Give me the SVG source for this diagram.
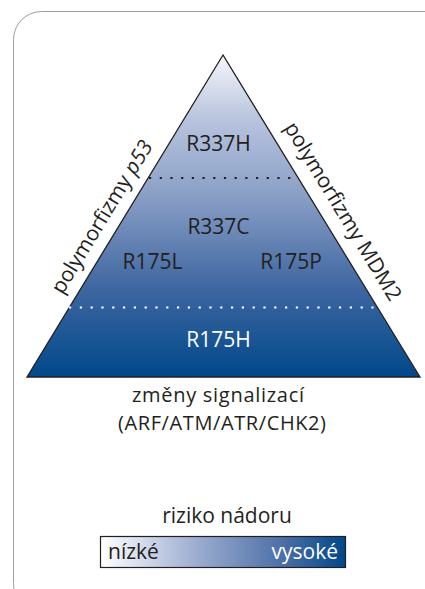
<svg xmlns="http://www.w3.org/2000/svg" width="425" height="589" viewBox="0 0 425 589">
<style>
  text { font-family: "Open Sans", "Noto Sans", "Liberation Sans", sans-serif; font-size: 21px; fill: #231f20; }
  .c { text-anchor: middle; }
  .w { fill: #ffffff; }
  .s { font-size: 20px; }
</style>
<defs>
  <linearGradient id="pyr" x1="0" y1="55" x2="0" y2="377" gradientUnits="userSpaceOnUse">
    <stop offset="0" stop-color="#f5f6fb"/>
    <stop offset="0.2" stop-color="#b8c4de"/>
    <stop offset="0.43" stop-color="#8ba0c7"/>
    <stop offset="0.72" stop-color="#3f67a1"/>
    <stop offset="1" stop-color="#00488a"/>
  </linearGradient>
  <linearGradient id="leg" x1="0" y1="0" x2="1" y2="0">
    <stop offset="0" stop-color="#ffffff"/>
    <stop offset="0.4" stop-color="#9aabcf"/>
    <stop offset="0.75" stop-color="#4a6ea5"/>
    <stop offset="1" stop-color="#00488a"/>
  </linearGradient>
</defs>
<rect x="13.5" y="11.5" width="440" height="600" rx="28" fill="none" stroke="#9d9d9d" stroke-width="1"/>
<g id="pyramid">
  <polygon points="223,55 27,377 420,377" fill="url(#pyr)" stroke="#231f20" stroke-width="1.3" stroke-linejoin="miter"/>
  <line x1="149" y1="178" x2="298" y2="178" stroke="#231f20" stroke-width="2.2" stroke-dasharray="2.2 8.5"/>
  <line x1="69" y1="307.5" x2="380" y2="307.5" stroke="#ffffff" stroke-width="2.2" stroke-dasharray="2.2 8.6"/>
</g>
<g id="n-R337H"><text class="c" x="218.5" y="150.5">R337H</text></g>
<g id="n-R337C"><text class="c" x="218.5" y="233.5">R337C</text></g>
<g id="n-R175L"><text class="c" x="152.5" y="269">R175L</text></g>
<g id="n-R175P"><text class="c" x="291" y="269">R175P</text></g>
<g id="n-R175H"><text class="c w" x="218.5" y="347">R175H</text></g>
<g id="label-p53"><text class="c" transform="translate(108,220.5) rotate(-58.7)">polymorfizmy <tspan font-style="italic">p53</tspan></text></g>
<g id="label-MDM2"><text class="c" transform="translate(337,215) rotate(58.7)">polymorfizmy MDM2</text></g>
<g id="label-signal">
  <text class="c s" x="218" y="402" textLength="172" lengthAdjust="spacing">změny signalizací</text>
  <text class="c s" x="222" y="430" textLength="208" lengthAdjust="spacing">(ARF/ATM/ATR/CHK2)</text>
</g>
<g id="legend">
  <text class="c" x="227" y="523">riziko nádoru</text>
  <rect x="100.5" y="536.5" width="245" height="31" fill="url(#leg)" stroke="#231f20" stroke-width="1.2"/>
  <text x="108" y="559">nízké</text>
  <text class="w" x="338" y="559" text-anchor="end">vysoké</text>
</g>
<g id="connectors"></g>
</svg>
